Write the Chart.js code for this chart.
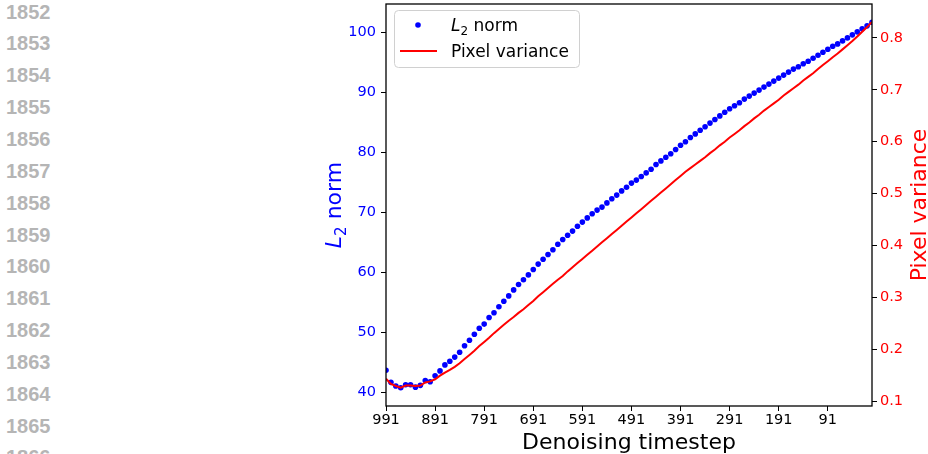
<!DOCTYPE html>
<html lang="en">
<head>
    <meta charset="UTF-8">
    <title>L2 norm and pixel variance over denoising</title>
    <script src="https://cdn.jsdelivr.net/npm/chart.js"></script>
    <style>
        html, body { margin: 0; padding: 0; background: #fff; overflow: hidden; }
        #page { position: relative; width: 928px; height: 454px; overflow: hidden; }
        #lineNumbers {
            position: absolute; left: 6px; top: -3.4px;
            font-family: "Liberation Sans", Arial, sans-serif;
            font-weight: bold; font-size: 20px; line-height: 31.85px;
            color: #b5b5b5;
        }
        #chart { position: absolute; left: 0; top: 0; }
    </style>
</head>
<body>
<div id="page">
    <div id="lineNumbers"></div>
    <canvas id="chart" width="928" height="454"></canvas>
</div>

<script>
    // manuscript line numbers down the left margin
    var lineNumbers = [1852, 1853, 1854, 1855, 1856, 1857, 1858, 1859, 1860, 1861, 1862, 1863, 1864, 1865, 1866];

    // denoising timesteps, every 10th step from 991 down to 1
    var timesteps = [
        991, 981, 971, 961, 951, 941, 931, 921, 911, 901,
        891, 881, 871, 861, 851, 841, 831, 821, 811, 801,
        791, 781, 771, 761, 751, 741, 731, 721, 711, 701,
        691, 681, 671, 661, 651, 641, 631, 621, 611, 601,
        591, 581, 571, 561, 551, 541, 531, 521, 511, 501,
        491, 481, 471, 461, 451, 441, 431, 421, 411, 401,
        391, 381, 371, 361, 351, 341, 331, 321, 311, 301,
        291, 281, 271, 261, 251, 241, 231, 221, 211, 201,
        191, 181, 171, 161, 151, 141, 131, 121, 111, 101,
        91, 81, 71, 61, 51, 41, 31, 21, 11, 1
    ];

    var l2Norm = [
        43.7, 41.7, 41.1, 40.8, 41.3, 41.3, 40.9, 41.2, 42.0, 41.8,
        42.8, 43.6, 44.6, 45.2, 45.9, 46.7, 47.8, 48.7, 49.7, 50.7,
        51.4, 52.5, 53.3, 54.3, 55.2, 56.1, 57.1, 58.0, 58.8, 59.6,
        60.5, 61.4, 62.2, 63.0, 63.8, 64.7, 65.5, 66.2, 66.9, 67.7,
        68.4, 69.1, 69.8, 70.4, 70.9, 71.6, 72.3, 72.9, 73.6, 74.2,
        74.9, 75.4, 76.0, 76.6, 77.2, 78.0, 78.6, 79.2, 79.8, 80.5,
        81.2, 81.8, 82.5, 83.1, 83.7, 84.3, 84.9, 85.5, 86.1, 86.7,
        87.3, 87.8, 88.3, 88.9, 89.4, 89.9, 90.4, 90.9, 91.4, 91.9,
        92.4, 92.9, 93.4, 93.9, 94.3, 94.8, 95.2, 95.7, 96.2, 96.7,
        97.2, 97.7, 98.1, 98.6, 99.1, 99.6, 100.1, 100.6, 101.1, 101.7
    ];

    var pixelVariance = [
        0.143, 0.133, 0.129, 0.126, 0.130, 0.130, 0.129, 0.130, 0.136, 0.138,
        0.142, 0.149, 0.155, 0.160, 0.166, 0.173, 0.181, 0.189, 0.197, 0.206,
        0.214, 0.222, 0.231, 0.239, 0.247, 0.255, 0.262, 0.270, 0.277, 0.285,
        0.293, 0.302, 0.310, 0.318, 0.326, 0.334, 0.341, 0.350, 0.358, 0.366,
        0.374, 0.382, 0.390, 0.398, 0.406, 0.414, 0.422, 0.430, 0.438, 0.446,
        0.454, 0.462, 0.470, 0.478, 0.486, 0.494, 0.502, 0.510, 0.518, 0.526,
        0.534, 0.542, 0.549, 0.556, 0.563, 0.570, 0.578, 0.585, 0.593, 0.600,
        0.608, 0.615, 0.622, 0.630, 0.637, 0.645, 0.652, 0.660, 0.667, 0.674,
        0.681, 0.689, 0.696, 0.703, 0.710, 0.718, 0.725, 0.732, 0.740, 0.748,
        0.755, 0.763, 0.770, 0.778, 0.786, 0.794, 0.803, 0.812, 0.821, 0.831
    ];

    var xTicks = [991, 891, 791, 691, 591, 491, 391, 291, 191, 91];
    var l2Ticks = [40, 50, 60, 70, 80, 90, 100];
    var varianceTicks = [0.1, 0.2, 0.3, 0.4, 0.5, 0.6, 0.7, 0.8];

    var FONT = '"DejaVu Sans", sans-serif';

    document.getElementById('lineNumbers').innerHTML =
        lineNumbers.map(function (n) { return '<div>' + n + '</div>'; }).join('');

    function setTicks(values) {
        return function (scale) {
            scale.ticks = values.map(function (v) { return { value: v }; });
        };
    }

    // fixed axis sizes, no extra room for overhanging tick labels
    function fixSize(size) {
        return function (scale) {
            if (scale.isHorizontal()) scale.height = size;
            else scale.width = size;
            scale.paddingTop = 0;
            scale.paddingBottom = 0;
            scale.paddingLeft = 0;
            scale.paddingRight = 0;
        };
    }

    // frame, legend and axis titles (titles need italic L with subscript 2)
    var decorations = {
        id: 'decorations',
        afterDatasetsDraw: function (chart) {
            var ctx = chart.ctx;
            var a = chart.chartArea;
            ctx.save();
            ctx.strokeStyle = '#000';
            ctx.lineWidth = 1.3;
            ctx.strokeRect(a.left, a.top, a.right - a.left, a.bottom - a.top);
            ctx.restore();
        },
        afterDraw: function (chart) {
            var ctx = chart.ctx;
            var a = chart.chartArea;
            ctx.save();

            // legend box
            var bx = 394.5, by = 10.5, bw = 185, bh = 57, r = 4;
            ctx.beginPath();
            ctx.moveTo(bx + r, by);
            ctx.arcTo(bx + bw, by, bx + bw, by + bh, r);
            ctx.arcTo(bx + bw, by + bh, bx, by + bh, r);
            ctx.arcTo(bx, by + bh, bx, by, r);
            ctx.arcTo(bx, by, bx + bw, by, r);
            ctx.closePath();
            ctx.fillStyle = 'rgba(255,255,255,0.8)';
            ctx.fill();
            ctx.strokeStyle = '#d0d0d0';
            ctx.lineWidth = 1;
            ctx.stroke();

            ctx.fillStyle = 'blue';
            ctx.beginPath();
            ctx.arc(418, 25, 2.8, 0, Math.PI * 2);
            ctx.fill();

            ctx.strokeStyle = 'red';
            ctx.lineWidth = 2;
            ctx.beginPath();
            ctx.moveTo(400, 51);
            ctx.lineTo(437, 51);
            ctx.stroke();

            ctx.textBaseline = 'alphabetic';
            drawL2(ctx, 451, 31, 17, '#000');
            ctx.font = '17px ' + FONT;
            ctx.fillStyle = '#000';
            ctx.fillText('Pixel variance', 451, 57);

            // x axis title
            ctx.font = '22px ' + FONT;
            ctx.textAlign = 'center';
            ctx.fillStyle = '#000';
            ctx.fillText('Denoising timestep', (a.left + a.right) / 2, 449);

            // left axis title
            var midY = (a.top + a.bottom) / 2;
            ctx.save();
            ctx.translate(341, midY);
            ctx.rotate(-Math.PI / 2);
            var w = measureL2(ctx, 22);
            drawL2(ctx, -w / 2, 0, 22, 'blue');
            ctx.restore();

            // right axis title
            ctx.save();
            ctx.translate(926, midY);
            ctx.rotate(-Math.PI / 2);
            ctx.font = '22px ' + FONT;
            ctx.fillStyle = 'red';
            ctx.textAlign = 'center';
            ctx.fillText('Pixel variance', 0, 0);
            ctx.restore();

            ctx.restore();
        }
    };

    function measureL2(ctx, size) {
        ctx.font = 'italic ' + size + 'px ' + FONT;
        var w = ctx.measureText('L').width;
        ctx.font = Math.round(size * 0.7) + 'px ' + FONT;
        w += ctx.measureText('2').width;
        ctx.font = size + 'px ' + FONT;
        w += ctx.measureText(' norm').width;
        return w;
    }

    function drawL2(ctx, x, y, size, color) {
        ctx.fillStyle = color;
        ctx.textAlign = 'left';
        ctx.font = 'italic ' + size + 'px ' + FONT;
        ctx.fillText('L', x, y);
        x += ctx.measureText('L').width;
        ctx.font = Math.round(size * 0.7) + 'px ' + FONT;
        ctx.fillText('2', x, y + size * 0.22);
        x += ctx.measureText('2').width;
        ctx.font = size + 'px ' + FONT;
        ctx.fillText(' norm', x, y);
    }

    var tickFont = { family: FONT, size: 14.5 };

    new Chart(document.getElementById('chart').getContext('2d'), {
        type: 'scatter',
        data: {
            datasets: [
                {
                    label: 'Pixel variance',
                    data: timesteps.map(function (t, i) { return { x: t, y: pixelVariance[i] }; }),
                    yAxisID: 'y1',
                    showLine: true,
                    borderColor: 'red',
                    borderWidth: 2,
                    pointRadius: 0,
                    tension: 0,
                    clip: 0,
                    order: 0
                },
                {
                    label: 'L2 norm',
                    data: timesteps.map(function (t, i) { return { x: t, y: l2Norm[i] }; }),
                    yAxisID: 'y',
                    showLine: false,
                    backgroundColor: 'blue',
                    borderWidth: 0,
                    pointRadius: 2.8,
                    clip: 0,
                    order: 1
                }
            ]
        },
        options: {
            responsive: false,
            animation: false,
            devicePixelRatio: 1,
            events: [],
            layout: { padding: { left: 300, right: 0, top: 4, bottom: 0 } },
            plugins: {
                legend: { display: false },
                tooltip: { enabled: false },
                title: { display: false }
            },
            scales: {
                x: {
                    type: 'linear',
                    position: 'bottom',
                    reverse: true,
                    min: 1,
                    max: 991,
                    afterBuildTicks: setTicks(xTicks),
                    afterFit: fixSize(48),
                    border: { display: false },
                    grid: { drawOnChartArea: false, tickLength: 5, color: '#000', tickWidth: 1 },
                    ticks: { color: '#000', font: tickFont, padding: 1, maxRotation: 0, autoSkip: false,
                             callback: function (v) { return String(v); } }
                },
                y: {
                    position: 'left',
                    min: 37.755,
                    max: 104.745,
                    afterBuildTicks: setTicks(l2Ticks),
                    afterFit: fixSize(86),
                    border: { display: false },
                    grid: { drawOnChartArea: false, tickLength: 5, color: '#000', tickWidth: 1 },
                    ticks: { color: 'blue', font: tickFont, padding: 5,
                             callback: function (v) { return String(v); } }
                },
                y1: {
                    position: 'right',
                    min: 0.0905,
                    max: 0.8655,
                    afterBuildTicks: setTicks(varianceTicks),
                    afterFit: fixSize(56),
                    border: { display: false },
                    grid: { drawOnChartArea: false, tickLength: 5, color: '#000', tickWidth: 1 },
                    ticks: { color: 'red', font: tickFont, padding: 3,
                             callback: function (v) { return v.toFixed(1); } }
                }
            }
        },
        plugins: [decorations]
    });
</script>
</body>
</html>
